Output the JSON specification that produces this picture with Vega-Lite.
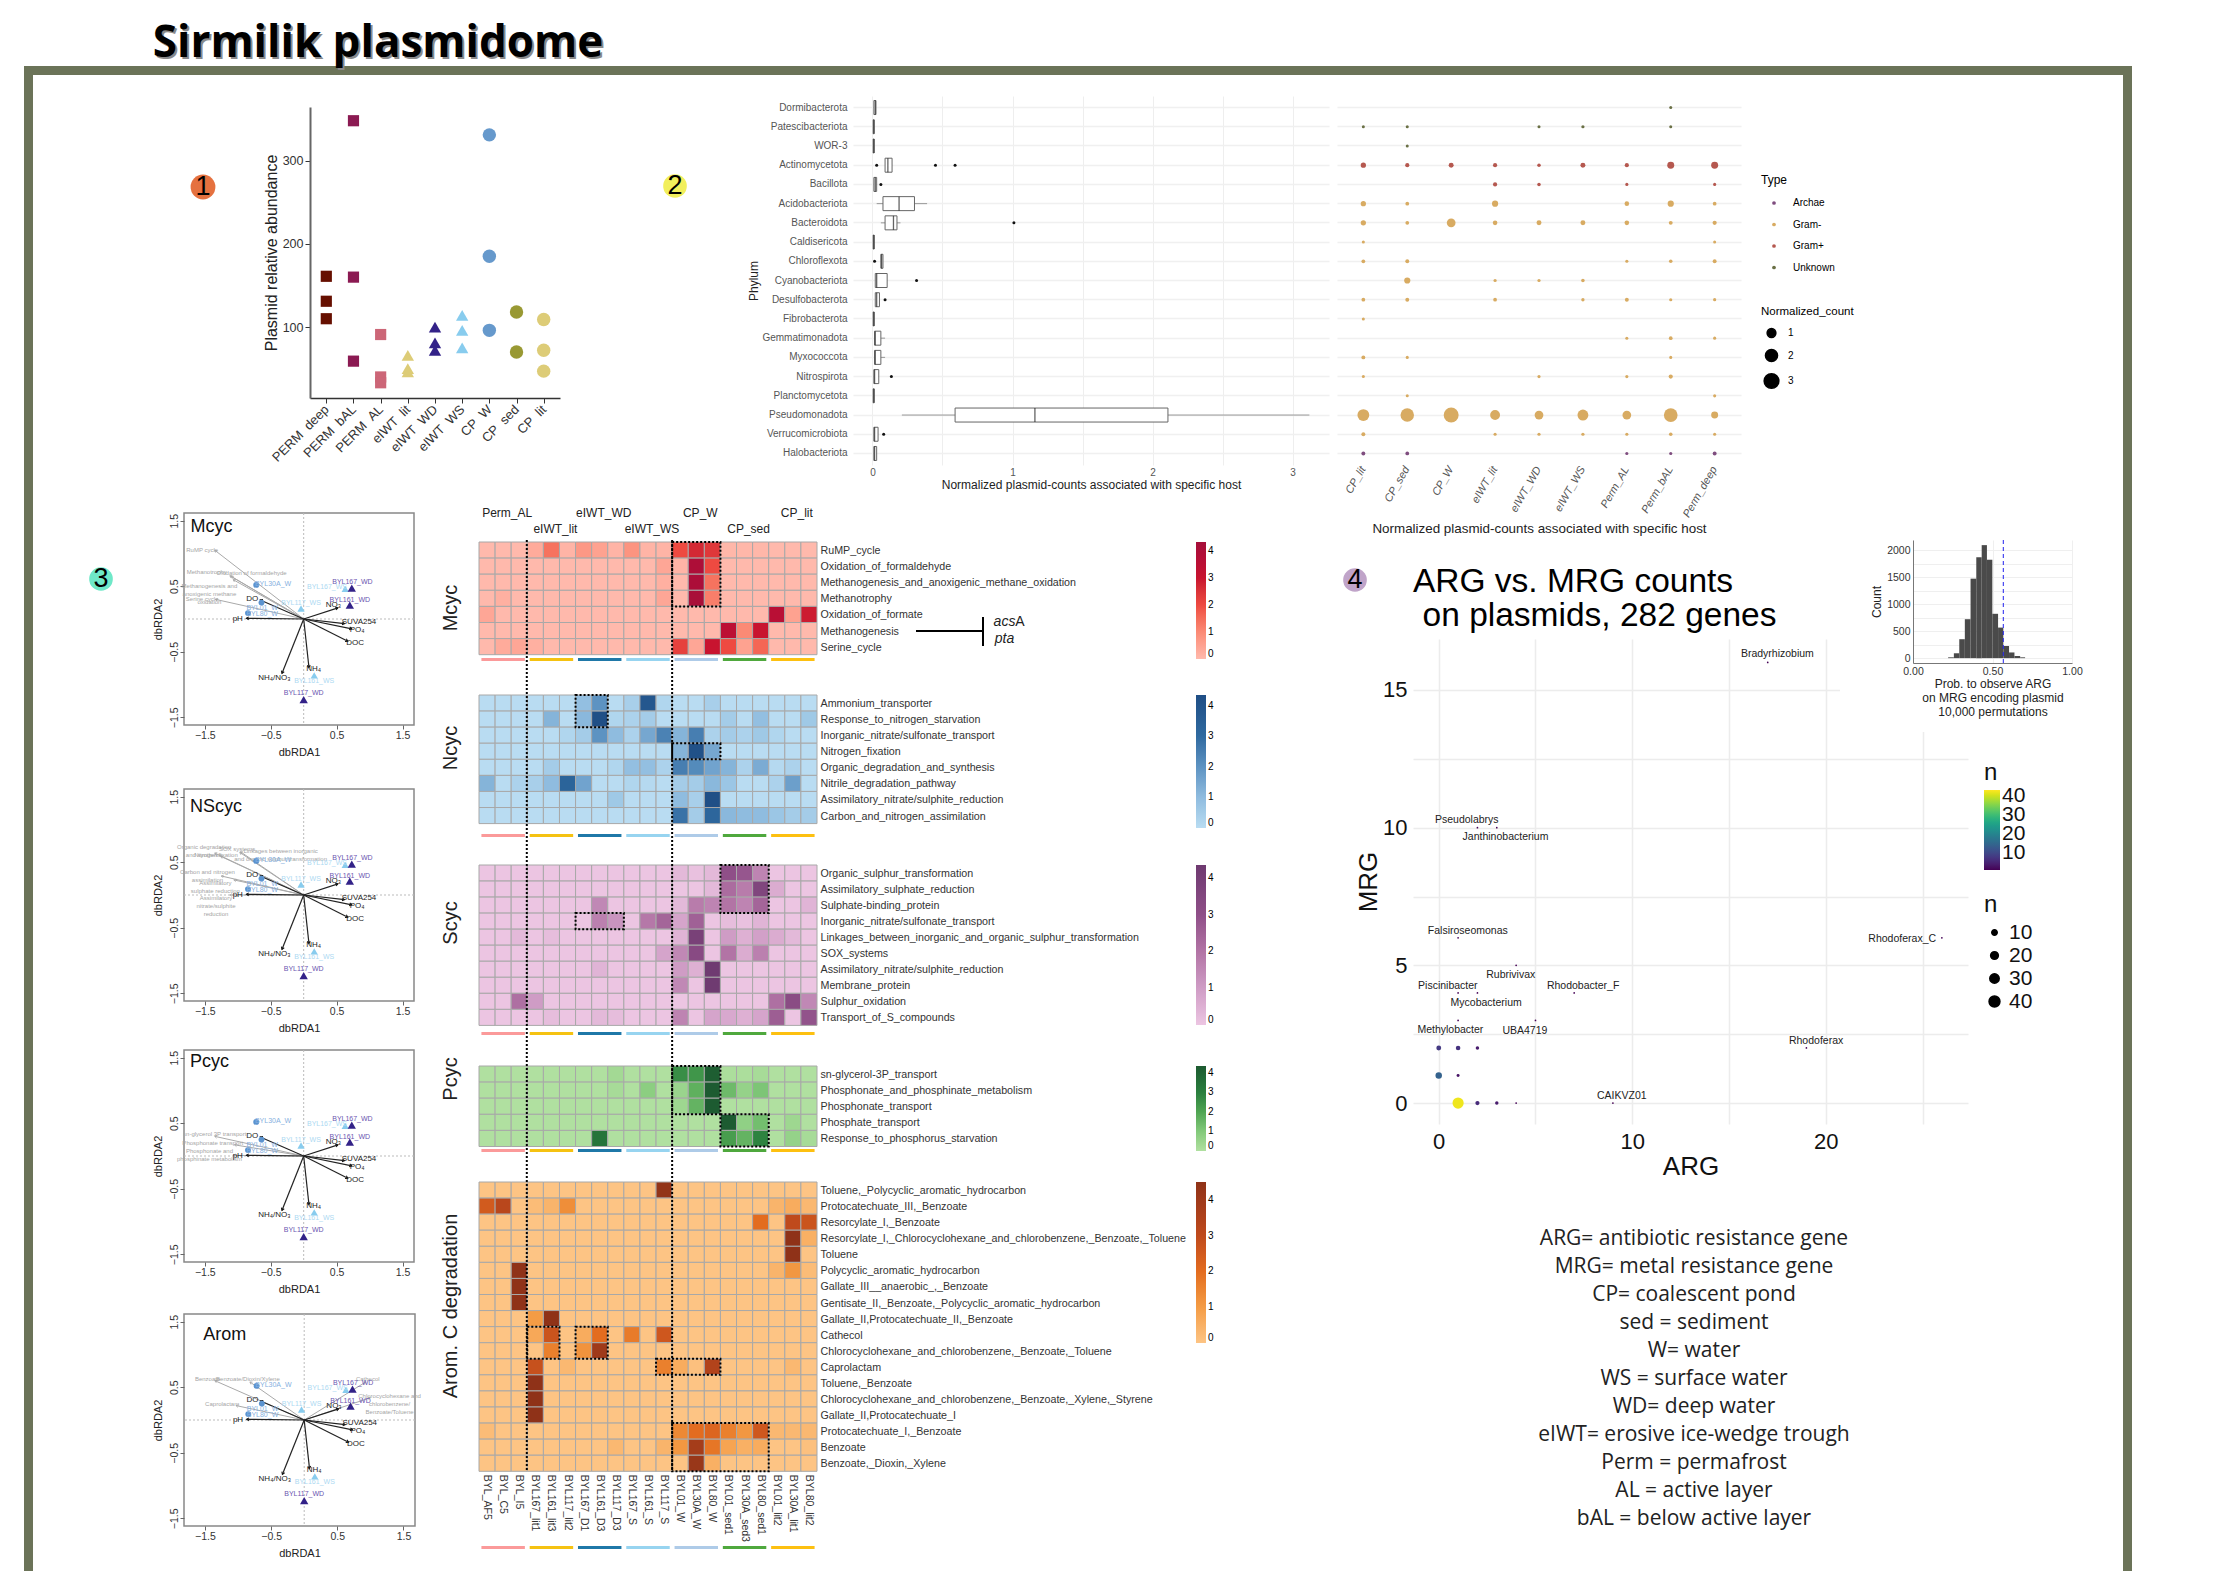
{"$schema":"https://vega.github.io/schema/vega-lite/v6.json","padding":0,"background":"white","bounds":"flush","spacing":0,
"resolve":{"scale":{"color":"independent","size":"independent","shape":"independent","fill":"independent"}},
"config":{"font":"Liberation Sans","view":{"stroke":null},"axis":{"grid":false,"titleFontWeight":"normal","labelOverlap":false,"labelColor":"#333","titleColor":"#222"},"legend":{"titleFontWeight":"normal","labelOverlap":false},"style":{"fl":{"color":"#a9a9a9","stroke":"#a9a9a9","strokeWidth":1},"fh":{"shape":"M-0.5,0.8L0,0L0.5,0.8","filled":false,"color":"#aaa","stroke":"#aaa","strokeWidth":0.8,"size":30,"opacity":1},"ft":{"fontSize":6,"color":"#a5a5a5","fill":"#a5a5a5","lineBreak":"\n"},"el":{"color":"#222","stroke":"#222","strokeWidth":1.2},"eh":{"shape":"M-0.5,0.8L0,0L0.5,0.8","filled":false,"color":"#111","stroke":"#111","strokeWidth":1,"size":36,"opacity":1},"et":{"fontSize":8,"color":"#222","fill":"#222"},"st":{"fontSize":7}}},
"datasets":{
"groups":[{"g":"Perm_AL","tier":"a"},{"g":"eIWT_lit","tier":"b"},{"g":"eIWT_WD","tier":"a"},{"g":"eIWT_WS","tier":"b"},{"g":"CP_W","tier":"a"},{"g":"CP_sed","tier":"b"},{"g":"CP_lit","tier":"a"}],
"sites":[{"name":"BYL30A_W","k":"W","x":-0.72,"y":0.52,"lx":-0.465,"ly":0.54},{"name":"BYL01_W","k":"W","x":-0.64,"y":0.25,"lx":-0.63,"ly":0.17},{"name":"BYL80_W","k":"W","x":-0.845,"y":0.09,"lx":-0.63,"ly":0.07},{"name":"BYL117_WS","k":"WS","x":-0.04,"y":0.16,"lx":-0.04,"ly":0.245},{"name":"BYL167_WS","k":"WS","x":0.63,"y":0.46,"lx":0.354,"ly":0.488},{"name":"BYL167_WD","k":"WD","x":0.73,"y":0.47,"lx":0.74,"ly":0.57},{"name":"BYL161_WD","k":"WD","x":0.7,"y":0.21,"lx":0.7,"ly":0.295},{"name":"BYL161_WS","k":"WS","x":0.16,"y":-0.86,"lx":0.16,"ly":-0.95},{"name":"BYL117_WD","k":"WD","x":0,"y":-1.23,"lx":0,"ly":-1.13}],
"env":[{"t":"NO₃","x":0.52,"y":0.17,"lx":0.45,"ly":0.21},{"t":"SUVA254","x":0.62,"y":-0.07,"lx":0.84,"ly":-0.05},{"t":"PO₄","x":0.73,"y":-0.15,"lx":0.81,"ly":-0.17},{"t":"DOC","x":0.67,"y":-0.34,"lx":0.78,"ly":-0.36},{"t":"NH₄","x":0.08,"y":-0.74,"lx":0.15,"ly":-0.77},{"t":"NH₄/NO₃","x":-0.33,"y":-0.83,"lx":-0.445,"ly":-0.905},{"t":"pH","x":-0.87,"y":0.01,"lx":-1,"ly":0.005},{"t":"DO","x":-0.66,"y":0.29,"lx":-0.78,"ly":0.3}]
},
"vconcat":[
{"vconcat":[{"width":1,"height":66,"data":{"values":[]},"mark":"point","encoding":{}},{"hconcat":[{"width":24,"height":1,"data":{"values":[]},"mark":"point","encoding":{}},{"width":2108,"height":9,"view":{"fill":"#6b7358"},"data":{"values":[]},"mark":"point","encoding":{}}],"spacing":0,"bounds":"flush"}],"spacing":0,"bounds":"flush"},
{"vconcat":[{"width":1,"height":66,"data":{"values":[]},"mark":"point","encoding":{}},{"hconcat":[{"width":24,"height":1,"data":{"values":[]},"mark":"point","encoding":{}},{"width":9,"height":1505,"view":{"fill":"#6b7358"},"data":{"values":[]},"mark":"point","encoding":{}}],"spacing":0,"bounds":"flush"}],"spacing":0,"bounds":"flush"},
{"vconcat":[{"width":1,"height":66,"data":{"values":[]},"mark":"point","encoding":{}},{"hconcat":[{"width":2123,"height":1,"data":{"values":[]},"mark":"point","encoding":{}},{"width":9,"height":1505,"view":{"fill":"#6b7358"},"data":{"values":[]},"mark":"point","encoding":{}}],"spacing":0,"bounds":"flush"}],"spacing":0,"bounds":"flush"},

{"vconcat":[{"width":1,"height":18,"data":{"values":[]},"mark":"point","encoding":{}},{"hconcat":[{"width":154,"height":1,"data":{"values":[]},"mark":"point","encoding":{}},{"width":448,"height":52,"data":{"values":[{}]},"layer":[{"mark":{"type":"text","text":"Sirmilik plasmidome","font":"Open Sans","fontWeight":"bold","fontSize":44,"fill":"#8a8a8a","dx":2,"dy":2},"encoding":{}},{"mark":{"type":"text","text":"Sirmilik plasmidome","font":"Open Sans","fontWeight":"bold","fontSize":44,"fill":"#000"},"encoding":{}}]}],"spacing":0,"bounds":"flush"}],"spacing":0,"bounds":"flush"},

{"vconcat":[{"width":1,"height":173,"data":{"values":[]},"mark":"point","encoding":{}},{"hconcat":[{"width":189,"height":1,"data":{"values":[]},"mark":"point","encoding":{}},{"width":28,"height":28,"data":{"values":[{}]},"layer":[{"mark":{"type":"point","filled":true,"size":615,"fill":"#e5713f","opacity":1},"encoding":{}},{"mark":{"type":"text","text":"1","fontSize":27,"fill":"#000"},"encoding":{}}]}],"spacing":0,"bounds":"flush"}],"spacing":0,"bounds":"flush"},
{"vconcat":[{"width":1,"height":172,"data":{"values":[]},"mark":"point","encoding":{}},{"hconcat":[{"width":661,"height":1,"data":{"values":[]},"mark":"point","encoding":{}},{"width":28,"height":28,"data":{"values":[{}]},"layer":[{"mark":{"type":"point","filled":true,"size":560,"fill":"#f2ef5c","opacity":1},"encoding":{}},{"mark":{"type":"text","text":"2","fontSize":27,"fill":"#000"},"encoding":{}}]}],"spacing":0,"bounds":"flush"}],"spacing":0,"bounds":"flush"},
{"vconcat":[{"width":1,"height":565,"data":{"values":[]},"mark":"point","encoding":{}},{"hconcat":[{"width":87,"height":1,"data":{"values":[]},"mark":"point","encoding":{}},{"width":28,"height":28,"data":{"values":[{}]},"layer":[{"mark":{"type":"point","filled":true,"size":560,"fill":"#6fe8c8","opacity":1},"encoding":{}},{"mark":{"type":"text","text":"3","fontSize":27,"fill":"#000"},"encoding":{}}]}],"spacing":0,"bounds":"flush"}],"spacing":0,"bounds":"flush"},
{"vconcat":[{"width":1,"height":566,"data":{"values":[]},"mark":"point","encoding":{}},{"hconcat":[{"width":1341,"height":1,"data":{"values":[]},"mark":"point","encoding":{}},{"width":28,"height":28,"data":{"values":[{}]},"layer":[{"mark":{"type":"point","filled":true,"size":560,"fill":"#c0a4c9","opacity":1},"encoding":{}},{"mark":{"type":"text","text":"4","fontSize":27,"fill":"#000"},"encoding":{}}]}],"spacing":0,"bounds":"flush"}],"spacing":0,"bounds":"flush"},

{"vconcat":[{"width":1,"height":107,"data":{"values":[]},"mark":"point","encoding":{}},{"hconcat":[{"width":310,"height":1,"data":{"values":[]},"mark":"point","encoding":{}},
{"width":250,"height":291,"data":{"values":[
{"g":"PERM  deep","s":"square","v":161},{"g":"PERM  deep","s":"square","v":131},{"g":"PERM  deep","s":"square","v":110},
{"g":"PERM  bAL","s":"square","v":348},{"g":"PERM  bAL","s":"square","v":160},{"g":"PERM  bAL","s":"square","v":59},
{"g":"PERM  AL","s":"square","v":91},{"g":"PERM  AL","s":"square","v":40},{"g":"PERM  AL","s":"square","v":33},
{"g":"eIWT  lit","s":"triangle-up","v":66},{"g":"eIWT  lit","s":"triangle-up","v":50},{"g":"eIWT  lit","s":"triangle-up","v":46},
{"g":"eIWT  WD","s":"triangle-up","v":100},{"g":"eIWT  WD","s":"triangle-up","v":81},{"g":"eIWT  WD","s":"triangle-up","v":72},
{"g":"eIWT  WS","s":"triangle-up","v":114},{"g":"eIWT  WS","s":"triangle-up","v":96},{"g":"eIWT  WS","s":"triangle-up","v":75},
{"g":"CP  W","s":"circle","v":331},{"g":"CP  W","s":"circle","v":185},{"g":"CP  W","s":"circle","v":96},
{"g":"CP  sed","s":"circle","v":118},{"g":"CP  sed","s":"circle","v":70},
{"g":"CP  lit","s":"circle","v":109},{"g":"CP  lit","s":"circle","v":72},{"g":"CP  lit","s":"circle","v":47}]},
"mark":{"type":"point","filled":true,"opacity":1},
"encoding":{"x":{"field":"g","type":"nominal","sort":null,"title":null,"scale":{"type":"point","padding":0.6},"axis":{"labelAngle":-45,"labelAlign":"right","labelBaseline":"middle","labelFontSize":13,"labelExpr":"replace(datum.label,'  ','\u00a0\u00a0')","domainColor":"#333","domainWidth":1.5,"tickColor":"#333","labelPadding":4}},
"y":{"field":"v","type":"quantitative","title":"Plasmid relative abundance","scale":{"domain":[14.7,364.5],"nice":false},"axis":{"values":[100,200,300],"labelFontSize":12.5,"titleFontSize":16,"titlePadding":3,"domainColor":"#666","domainWidth":2,"tickColor":"#333"}},
"shape":{"field":"s","type":"nominal","legend":null,"scale":{"domain":["square","triangle-up","circle"],"range":["square","triangle-up","circle"]}},
"size":{"field":"s","type":"ordinal","legend":null,"scale":{"domain":["square","triangle-up","circle"],"range":[125,180,105]}},
"color":{"field":"g","type":"nominal","legend":null,"sort":null,"scale":{"domain":["PERM  deep","PERM  bAL","PERM  AL","eIWT  lit","eIWT  WD","eIWT  WS","CP  W","CP  sed","CP  lit"],"range":["#660f00","#8b1a52","#cc6677","#ddcc77","#332288","#88ccee","#6699cc","#999933","#ddcc77"]}}}}
],"spacing":0,"bounds":"flush"}],"spacing":0,"bounds":"flush"},

{"vconcat":[{"width":1,"height":96,"data":{"values":[]},"mark":"point","encoding":{}},{"hconcat":[{"width":853,"height":1,"data":{"values":[]},"mark":"point","encoding":{}},
{"width":476,"height":369,"encoding":{"y":{"field":"p","type":"nominal","title":"Phylum","scale":{"type":"band","paddingInner":0,"paddingOuter":0.1,"domain":["Dormibacterota","Patescibacteriota","WOR-3","Actinomycetota","Bacillota","Acidobacteriota","Bacteroidota","Caldisericota","Chloroflexota","Cyanobacteriota","Desulfobacterota","Fibrobacterota","Gemmatimonadota","Myxococcota","Nitrospirota","Planctomycetota","Pseudomonadota","Verrucomicrobiota","Halobacteriota"]},"axis":{"grid":true,"gridColor":"#f0f0f0","gridWidth":1.5,"ticks":false,"domain":false,"labelFontSize":10,"labelColor":"#555","labelPadding":6,"titleFontSize":12,"titlePadding":1}}},
"layer":[
{"data":{"values":[{"p":"Dormibacterota","lo":0.01,"q1":0.01,"m":0.02,"q3":0.025,"hi":0.025},{"p":"Patescibacteriota","lo":0.005,"q1":0.005,"m":0.01,"q3":0.012,"hi":0.012},{"p":"WOR-3","lo":0.005,"q1":0.005,"m":0.01,"q3":0.012,"hi":0.012},{"p":"Actinomycetota","lo":0.09,"q1":0.09,"m":0.11,"q3":0.14,"hi":0.14},{"p":"Bacillota","lo":0.01,"q1":0.01,"m":0.02,"q3":0.03,"hi":0.03},{"p":"Acidobacteriota","lo":0.03,"q1":0.075,"m":0.19,"q3":0.3,"hi":0.39},{"p":"Bacteroidota","lo":0.06,"q1":0.09,"m":0.15,"q3":0.175,"hi":0.2},{"p":"Caldisericota","lo":0.005,"q1":0.005,"m":0.01,"q3":0.012,"hi":0.012},{"p":"Chloroflexota","lo":0.06,"q1":0.06,"m":0.065,"q3":0.075,"hi":0.075},{"p":"Cyanobacteriota","lo":0.02,"q1":0.02,"m":0.03,"q3":0.105,"hi":0.105},{"p":"Desulfobacterota","lo":0.02,"q1":0.02,"m":0.03,"q3":0.05,"hi":0.05},{"p":"Fibrobacterota","lo":0.005,"q1":0.005,"m":0.01,"q3":0.012,"hi":0.012},{"p":"Gemmatimonadota","lo":0.015,"q1":0.015,"m":0.02,"q3":0.06,"hi":0.09},{"p":"Myxococcota","lo":0.015,"q1":0.015,"m":0.02,"q3":0.06,"hi":0.09},{"p":"Nitrospirota","lo":0.01,"q1":0.01,"m":0.015,"q3":0.045,"hi":0.045},{"p":"Planctomycetota","lo":0.005,"q1":0.005,"m":0.01,"q3":0.012,"hi":0.012},{"p":"Pseudomonadota","lo":0.21,"q1":0.59,"m":1.16,"q3":2.11,"hi":3.12},{"p":"Verrucomicrobiota","lo":0.01,"q1":0.01,"m":0.015,"q3":0.04,"hi":0.04},{"p":"Halobacteriota","lo":0.01,"q1":0.01,"m":0.015,"q3":0.03,"hi":0.03}]},
"layer":[
{"mark":{"type":"rule","stroke":"#999","strokeWidth":1},"encoding":{"x":{"field":"lo","type":"quantitative","title":"Normalized plasmid-counts associated with specific host","scale":{"domain":[-0.139,3.26],"nice":false},"axis":{"values":[0,0.5,1,1.5,2,2.5,3],"labelExpr":"datum.value%1==0?format(datum.value,'d'):''","labelOverlap":false,"grid":true,"gridColor":"#eeeeee","ticks":false,"domain":false,"labelFontSize":10,"labelColor":"#555","titleFontSize":12,"titlePadding":2}},"x2":{"field":"hi"}}},
{"mark":{"type":"bar","size":14,"fill":"white","stroke":"#666","strokeWidth":1},"encoding":{"x":{"field":"q1","type":"quantitative"},"x2":{"field":"q3"}}},
{"mark":{"type":"tick","color":"#222","thickness":1.3,"size":14,"orient":"vertical"},"encoding":{"x":{"field":"m","type":"quantitative"}}}]},
{"data":{"values":[{"p":"Actinomycetota","o":0.03},{"p":"Actinomycetota","o":0.45},{"p":"Actinomycetota","o":0.59},{"p":"Bacillota","o":0.06},{"p":"Bacteroidota","o":1.01},{"p":"Chloroflexota","o":0.015},{"p":"Cyanobacteriota","o":0.315},{"p":"Desulfobacterota","o":0.09},{"p":"Nitrospirota","o":0.135},{"p":"Verrucomicrobiota","o":0.08}]},"mark":{"type":"circle","color":"#111","size":9,"opacity":1},"encoding":{"x":{"field":"o","type":"quantitative"}}}
]}
],"spacing":0,"bounds":"flush"}],"spacing":0,"bounds":"flush"},

{"vconcat":[{"width":1,"height":96,"data":{"values":[]},"mark":"point","encoding":{}},{"hconcat":[{"width":1337,"height":1,"data":{"values":[]},"mark":"point","encoding":{}},
{"width":404,"height":369,"data":{"values":[
{"p":"Dormibacterota","s":"Perm_bAL","v":0.03,"t":"Unknown"},
{"p":"Patescibacteriota","s":"CP_lit","v":0.03,"t":"Unknown"},{"p":"Patescibacteriota","s":"CP_sed","v":0.03,"t":"Unknown"},{"p":"Patescibacteriota","s":"eIWT_WD","v":0.03,"t":"Unknown"},{"p":"Patescibacteriota","s":"eIWT_WS","v":0.05,"t":"Unknown"},{"p":"Patescibacteriota","s":"Perm_bAL","v":0.03,"t":"Unknown"},
{"p":"WOR-3","s":"CP_sed","v":0.03,"t":"Unknown"},
{"p":"Actinomycetota","s":"CP_lit","v":0.3,"t":"Gram+"},{"p":"Actinomycetota","s":"CP_sed","v":0.15,"t":"Gram+"},{"p":"Actinomycetota","s":"CP_W","v":0.25,"t":"Gram+"},{"p":"Actinomycetota","s":"eIWT_lit","v":0.15,"t":"Gram+"},{"p":"Actinomycetota","s":"eIWT_WD","v":0.08,"t":"Gram+"},{"p":"Actinomycetota","s":"eIWT_WS","v":0.25,"t":"Gram+"},{"p":"Actinomycetota","s":"Perm_AL","v":0.15,"t":"Gram+"},{"p":"Actinomycetota","s":"Perm_bAL","v":0.6,"t":"Gram+"},{"p":"Actinomycetota","s":"Perm_deep","v":0.6,"t":"Gram+"},
{"p":"Bacillota","s":"eIWT_lit","v":0.15,"t":"Gram+"},{"p":"Bacillota","s":"eIWT_WD","v":0.08,"t":"Gram+"},{"p":"Bacillota","s":"Perm_AL","v":0.04,"t":"Gram+"},{"p":"Bacillota","s":"Perm_deep","v":0.04,"t":"Gram+"},
{"p":"Acidobacteriota","s":"CP_lit","v":0.3,"t":"Gram-"},{"p":"Acidobacteriota","s":"CP_sed","v":0.1,"t":"Gram-"},{"p":"Acidobacteriota","s":"eIWT_lit","v":0.45,"t":"Gram-"},{"p":"Acidobacteriota","s":"Perm_AL","v":0.2,"t":"Gram-"},{"p":"Acidobacteriota","s":"Perm_bAL","v":0.45,"t":"Gram-"},{"p":"Acidobacteriota","s":"Perm_deep","v":0.1,"t":"Gram-"},
{"p":"Bacteroidota","s":"CP_lit","v":0.3,"t":"Gram-"},{"p":"Bacteroidota","s":"CP_sed","v":0.1,"t":"Gram-"},{"p":"Bacteroidota","s":"CP_W","v":1,"t":"Gram-"},{"p":"Bacteroidota","s":"eIWT_lit","v":0.2,"t":"Gram-"},{"p":"Bacteroidota","s":"eIWT_WD","v":0.25,"t":"Gram-"},{"p":"Bacteroidota","s":"eIWT_WS","v":0.25,"t":"Gram-"},{"p":"Bacteroidota","s":"Perm_AL","v":0.2,"t":"Gram-"},{"p":"Bacteroidota","s":"Perm_bAL","v":0.12,"t":"Gram-"},{"p":"Bacteroidota","s":"Perm_deep","v":0.15,"t":"Gram-"},
{"p":"Caldisericota","s":"CP_lit","v":0.03,"t":"Gram-"},{"p":"Caldisericota","s":"Perm_deep","v":0.03,"t":"Gram-"},
{"p":"Chloroflexota","s":"CP_lit","v":0.1,"t":"Gram-"},{"p":"Chloroflexota","s":"CP_sed","v":0.12,"t":"Gram-"},{"p":"Chloroflexota","s":"Perm_AL","v":0.04,"t":"Gram-"},{"p":"Chloroflexota","s":"Perm_bAL","v":0.08,"t":"Gram-"},{"p":"Chloroflexota","s":"Perm_deep","v":0.12,"t":"Gram-"},
{"p":"Cyanobacteriota","s":"CP_sed","v":0.45,"t":"Gram-"},{"p":"Cyanobacteriota","s":"eIWT_lit","v":0.05,"t":"Gram-"},{"p":"Cyanobacteriota","s":"eIWT_WD","v":0.05,"t":"Gram-"},{"p":"Cyanobacteriota","s":"eIWT_WS","v":0.08,"t":"Gram-"},
{"p":"Desulfobacterota","s":"CP_lit","v":0.1,"t":"Gram-"},{"p":"Desulfobacterota","s":"CP_sed","v":0.12,"t":"Gram-"},{"p":"Desulfobacterota","s":"eIWT_lit","v":0.1,"t":"Gram-"},{"p":"Desulfobacterota","s":"eIWT_WS","v":0.06,"t":"Gram-"},{"p":"Desulfobacterota","s":"Perm_AL","v":0.12,"t":"Gram-"},{"p":"Desulfobacterota","s":"Perm_bAL","v":0.04,"t":"Gram-"},{"p":"Desulfobacterota","s":"Perm_deep","v":0.05,"t":"Gram-"},
{"p":"Fibrobacterota","s":"CP_lit","v":0.03,"t":"Gram-"},
{"p":"Gemmatimonadota","s":"Perm_AL","v":0.03,"t":"Gram-"},{"p":"Gemmatimonadota","s":"Perm_bAL","v":0.1,"t":"Gram-"},{"p":"Gemmatimonadota","s":"Perm_deep","v":0.04,"t":"Gram-"},
{"p":"Myxococcota","s":"CP_lit","v":0.12,"t":"Gram-"},{"p":"Myxococcota","s":"CP_sed","v":0.03,"t":"Gram-"},{"p":"Myxococcota","s":"Perm_bAL","v":0.03,"t":"Gram-"},
{"p":"Nitrospirota","s":"CP_lit","v":0.03,"t":"Gram-"},{"p":"Nitrospirota","s":"eIWT_WD","v":0.04,"t":"Gram-"},{"p":"Nitrospirota","s":"Perm_AL","v":0.04,"t":"Gram-"},{"p":"Nitrospirota","s":"Perm_bAL","v":0.15,"t":"Gram-"},
{"p":"Planctomycetota","s":"CP_sed","v":0.03,"t":"Gram-"},{"p":"Planctomycetota","s":"Perm_deep","v":0.04,"t":"Gram-"},
{"p":"Pseudomonadota","s":"CP_lit","v":1.9,"t":"Gram-"},{"p":"Pseudomonadota","s":"CP_sed","v":2.5,"t":"Gram-"},{"p":"Pseudomonadota","s":"CP_W","v":3.1,"t":"Gram-"},{"p":"Pseudomonadota","s":"eIWT_lit","v":1.3,"t":"Gram-"},{"p":"Pseudomonadota","s":"eIWT_WD","v":1,"t":"Gram-"},{"p":"Pseudomonadota","s":"eIWT_WS","v":1.6,"t":"Gram-"},{"p":"Pseudomonadota","s":"Perm_AL","v":1,"t":"Gram-"},{"p":"Pseudomonadota","s":"Perm_bAL","v":2.6,"t":"Gram-"},{"p":"Pseudomonadota","s":"Perm_deep","v":0.6,"t":"Gram-"},
{"p":"Verrucomicrobiota","s":"CP_lit","v":0.12,"t":"Gram-"},{"p":"Verrucomicrobiota","s":"eIWT_lit","v":0.04,"t":"Gram-"},{"p":"Verrucomicrobiota","s":"eIWT_WD","v":0.05,"t":"Gram-"},{"p":"Verrucomicrobiota","s":"eIWT_WS","v":0.05,"t":"Gram-"},{"p":"Verrucomicrobiota","s":"Perm_AL","v":0.04,"t":"Gram-"},{"p":"Verrucomicrobiota","s":"Perm_bAL","v":0.08,"t":"Gram-"},{"p":"Verrucomicrobiota","s":"Perm_deep","v":0.04,"t":"Gram-"},
{"p":"Halobacteriota","s":"CP_lit","v":0.12,"t":"Archae"},{"p":"Halobacteriota","s":"CP_sed","v":0.1,"t":"Archae"},{"p":"Halobacteriota","s":"Perm_AL","v":0.04,"t":"Archae"},{"p":"Halobacteriota","s":"Perm_bAL","v":0.04,"t":"Archae"},{"p":"Halobacteriota","s":"Perm_deep","v":0.12,"t":"Archae"}]},
"mark":{"type":"circle","opacity":1},
"encoding":{
"x":{"field":"s","type":"nominal","title":"Normalized plasmid-counts associated with specific host","scale":{"type":"band","paddingInner":0,"paddingOuter":0.1,"domain":["CP_lit","CP_sed","CP_W","eIWT_lit","eIWT_WD","eIWT_WS","Perm_AL","Perm_bAL","Perm_deep"]},"axis":{"labelAngle":-60,"labelAlign":"right","labelBaseline":"middle","labelFontStyle":"italic","labelFontSize":11,"ticks":false,"domain":false,"labelColor":"#555","titleFontSize":13.4,"titlePadding":3}},
"y":{"field":"p","type":"nominal","title":null,"scale":{"type":"band","paddingInner":0,"paddingOuter":0.1,"domain":["Dormibacterota","Patescibacteriota","WOR-3","Actinomycetota","Bacillota","Acidobacteriota","Bacteroidota","Caldisericota","Chloroflexota","Cyanobacteriota","Desulfobacterota","Fibrobacterota","Gemmatimonadota","Myxococcota","Nitrospirota","Planctomycetota","Pseudomonadota","Verrucomicrobiota","Halobacteriota"]},"axis":{"labels":false,"ticks":false,"domain":false,"grid":true,"gridColor":"#f0f0f0","gridWidth":1.5}},
"color":{"field":"t","type":"nominal","scale":{"domain":["Archae","Gram-","Gram+","Unknown"],"range":["#7f4d7f","#d8ab62","#b5584f","#6a7045"]},"legend":{"title":"Type","orient":"none","legendX":1761,"legendY":175,"titleFontSize":12,"titlePadding":11,"labelFontSize":10,"symbolSize":14,"symbolOffset":8,"labelOffset":14,"rowPadding":11.5,"symbolType":"circle"}},
"size":{"field":"v","type":"quantitative","scale":{"domain":[0,3.2],"range":[7,230]},"legend":{"title":"Normalized_count","orient":"none","legendX":1761,"legendY":306,"values":[1,2,3],"format":"d","titleFontSize":11.5,"titlePadding":10,"labelFontSize":10,"rowPadding":5,"labelOffset":8,"symbolOffset":2,"symbolFillColor":"#000","symbolStrokeColor":"#000"}}}}
],"spacing":0,"bounds":"flush"}],"spacing":0,"bounds":"flush"},

{"vconcat":[{"width":1,"height":505,"data":{"values":[]},"mark":"point","encoding":{}},{"hconcat":[{"width":478.7,"height":1,"data":{"values":[]},"mark":"point","encoding":{}},
{"width":338,"height":32,"data":{"name":"groups"},"mark":{"type":"text","fontSize":12,"dx":4,"fill":"#222"},"encoding":{"text":{"field":"g"},"x":{"field":"g","type":"nominal","sort":null,"axis":null},"y":{"field":"tier","type":"nominal","axis":null,"scale":{"domain":["a","b"]}}}}
],"spacing":0,"bounds":"flush"}],"spacing":0,"bounds":"flush"},

{"vconcat":[{"width":1,"height":542,"data":{"values":[]},"mark":"point","encoding":{}},{"hconcat":[{"width":478.7,"height":1,"data":{"values":[]},"mark":"point","encoding":{}},
{"width":338,"height":112.7,"layer":[{"data":{"values":[
{"p":"RuMP_cycle","v":[0,0,0,0.3,1.4,0.1,0.7,0.5,0.1,0.8,0.1,0.1,2,2.7,2.4,0.05,0.05,0.05,0,0,0]},
{"p":"Oxidation_of_formaldehyde","v":[0,0,0,0,0,0,0,0,0,0,0,0.4,0.1,4,2,0,0,0,0,0,0]},
{"p":"Methanogenesis_and_anoxigenic_methane_oxidation","v":[0,0,0,0,0,0,0,0,0,0,0,0.2,0,4.1,1.4,0,0,0,0,0,0]},
{"p":"Methanotrophy","v":[0,0.2,0,0,0,0,0,0,0,0,0,0.4,0,4.2,1.2,0,0,0,0,0,0]},
{"p":"Oxidation_of_formate","v":[0.4,0,0,0,0,0,0,0,0,0,0,0,0,0,0,0,0,0,3.6,0.5,2.9]},
{"p":"Methanogenesis","v":[0,0,0,0,0,0,0,0,0,0,0,0,0,0,0,3.5,1,3,0,0,0]},
{"p":"Serine_cycle","v":[0,0.3,0.4,0.2,0,0,0,0,0,0,0,0,2.2,0.4,3,2,0.5,1.6,0,0,0]}]},
"transform":[{"flatten":["v"]},{"window":[{"op":"row_number","as":"i"}],"groupby":["p"]}],
"mark":{"type":"rect","stroke":"#a8a8a8","strokeWidth":1},
"encoding":{"x":{"field":"i","type":"ordinal","axis":null,"scale":{"type":"band","padding":0}},"y":{"field":"p","type":"nominal","sort":null,"title":null,"scale":{"type":"band","padding":0},"axis":{"orient":"right","ticks":false,"domain":false,"labelFontSize":10.7,"labelLimit":500,"labelPadding":3,"labelOffset":1,"labelColor":"#333"}},
"color":{"field":"v","type":"quantitative","title":null,"scale":{"domain":[0,1,2,3,4.35],"range":["#ffb9ac","#fb8a75","#ee4a41","#c8142f","#a50f3a"]},"legend":{"orient":"none","legendX":717,"legendY":0,"values":[0,1,2,3,4],"gradientLength":117,"gradientThickness":10,"labelFontSize":10}}}},
{"data":{"values":[{"a":12,"b":15,"c":0,"d":4}]},"mark":{"type":"rect","fill":"transparent","stroke":"#000","strokeWidth":2,"strokeDash":[2,2]},"encoding":{"x":{"field":"a","type":"quantitative","axis":null,"scale":{"domain":[0,21],"nice":false}},"x2":{"field":"b"},"y":{"field":"c","type":"quantitative","axis":null,"scale":{"domain":[7,0],"nice":false}},"y2":{"field":"d"}}}],"resolve":{"scale":{"x":"independent","y":"independent","color":"independent"}}}
],"spacing":0,"bounds":"flush"}],"spacing":0,"bounds":"flush"},

{"vconcat":[{"width":1,"height":695,"data":{"values":[]},"mark":"point","encoding":{}},{"hconcat":[{"width":478.7,"height":1,"data":{"values":[]},"mark":"point","encoding":{}},
{"width":338,"height":128.6,"layer":[{"data":{"values":[
{"p":"Ammonium_transporter","v":[0,0,0,0,0,0,0.9,2,0,0.4,3.9,0.2,0,0,0.4,0,0,0,0,0,0]},
{"p":"Response_to_nitrogen_starvation","v":[0,0,0,0,1.2,0,1.1,4.3,0.2,0.3,0.5,0,0,0,0,0.5,0,0.9,0,0,0.6]},
{"p":"Inorganic_nitrate/sulfonate_transport","v":[0,0,0,0,0,0.2,0.5,2,1,0.3,1.5,2.4,1.2,2.5,0.3,0.5,0.3,0.6,0.2,0,0]},
{"p":"Nitrogen_fixation","v":[0,0,0,0,0,0,0,0,0,0,0,0,1.2,4.2,1.5,0,0,0,0,0,0]},
{"p":"Organic_degradation_and_synthesis","v":[0,0,0,0,0.5,0,0,0,0.2,0.9,0.9,0.3,2.5,2.2,1.6,1.2,0.3,1.4,0.1,0.3,0]},
{"p":"Nitrile_degradation_pathway","v":[1.2,0,0.3,0.4,1,3.3,1.6,0,0,0.2,0.1,0,0.5,0.5,1.1,0.7,0,0,0.3,1.7,0]},
{"p":"Assimilatory_nitrate/sulphite_reduction","v":[0,0,0,0,0,0,0,0,0.6,0,0,0,1,0.4,4.3,0,0,0,0,0,0]},
{"p":"Carbon_and_nitrogen_assimilation","v":[0,0,0,0,0,0,0,0,0,0,0,0,2.8,0.5,3.2,1.1,1,1,0.7,0.5,0.5]}]},
"transform":[{"flatten":["v"]},{"window":[{"op":"row_number","as":"i"}],"groupby":["p"]}],
"mark":{"type":"rect","stroke":"#a8a8a8","strokeWidth":1},
"encoding":{"x":{"field":"i","type":"ordinal","axis":null,"scale":{"type":"band","padding":0}},"y":{"field":"p","type":"nominal","sort":null,"title":null,"scale":{"type":"band","padding":0},"axis":{"orient":"right","ticks":false,"domain":false,"labelFontSize":10.7,"labelLimit":500,"labelPadding":3,"labelOffset":1,"labelColor":"#333"}},
"color":{"field":"v","type":"quantitative","title":null,"scale":{"domain":[0,1,2,3,4.35],"range":["#b9dcf2","#8fbcdf","#5d93c2","#2f6aa0","#1f4e85"]},"legend":{"orient":"none","legendX":717,"legendY":0,"values":[0,1,2,3,4],"gradientLength":133,"gradientThickness":10,"labelFontSize":10}}}},
{"data":{"values":[{"a":6,"b":8,"c":0,"d":2},{"a":12,"b":15,"c":3,"d":4}]},"mark":{"type":"rect","fill":"transparent","stroke":"#000","strokeWidth":2,"strokeDash":[2,2]},"encoding":{"x":{"field":"a","type":"quantitative","axis":null,"scale":{"domain":[0,21],"nice":false}},"x2":{"field":"b"},"y":{"field":"c","type":"quantitative","axis":null,"scale":{"domain":[8,0],"nice":false}},"y2":{"field":"d"}}}],"resolve":{"scale":{"x":"independent","y":"independent","color":"independent"}}}
],"spacing":0,"bounds":"flush"}],"spacing":0,"bounds":"flush"},

{"vconcat":[{"width":1,"height":865,"data":{"values":[]},"mark":"point","encoding":{}},{"hconcat":[{"width":478.7,"height":1,"data":{"values":[]},"mark":"point","encoding":{}},
{"width":338,"height":160.4,"layer":[{"data":{"values":[
{"p":"Organic_sulphur_transformation","v":[0,0,0,0,0,0,0,0,0,0,0,0,0.3,0.1,0.3,3,2.8,1.6,0,0,0]},
{"p":"Assimilatory_sulphate_reduction","v":[0,0,0,0,0,0,0,0,0,0,0,0,0,0,0.3,2.2,1.8,3.6,0.6,0,0]},
{"p":"Sulphate-binding_protein","v":[0,0,0,0,0,0,0,1.5,0,0,0,0,0.3,1.8,1.6,2,1.6,2.4,0,0,0.4]},
{"p":"Inorganic_nitrate/sulfonate_transport","v":[0,0,0,0,0,0,0,1.7,1.2,0,1.9,2.4,0.8,2.5,0,0.2,0.1,0.4,0,0,0]},
{"p":"Linkages_between_inorganic_and_organic_sulphur_transformation","v":[0,0,0.3,0,0.2,0,0,0,0,0,0,0,0.4,3.9,0,1,0.5,0.9,0.6,0.3,0]},
{"p":"SOX_systems","v":[0,0,0,0,0,0,0,0,0,0,0,0.8,1.5,3.3,0,2,0.6,1.7,0,0,0]},
{"p":"Assimilatory_nitrate/sulphite_reduction","v":[0,0,0,0,0,0,0,0.4,0,0,0,0,1,0.5,4.3,0,0,0,0,0,0]},
{"p":"Membrane_protein","v":[0,0,0,0,0,0,0,0,0,0,0,0,1.5,0,4.3,0,0,0,0,0,0]},
{"p":"Sulphur_oxidation","v":[0,0,2.1,1,0,0,0,0,0,0,0,0,0,0,0,0,0,0,2.1,3.2,1.5]},
{"p":"Transport_of_S_compounds","v":[0,0,0,0,0.2,0,0,0.3,0.2,0,0,0,1.6,0,0.8,0.7,0.5,0.8,2.6,0,2.9]}]},
"transform":[{"flatten":["v"]},{"window":[{"op":"row_number","as":"i"}],"groupby":["p"]}],
"mark":{"type":"rect","stroke":"#a8a8a8","strokeWidth":1},
"encoding":{"x":{"field":"i","type":"ordinal","axis":null,"scale":{"type":"band","padding":0}},"y":{"field":"p","type":"nominal","sort":null,"title":null,"scale":{"type":"band","padding":0},"axis":{"orient":"right","ticks":false,"domain":false,"labelFontSize":10.7,"labelLimit":500,"labelPadding":3,"labelOffset":1,"labelColor":"#333"}},
"color":{"field":"v","type":"quantitative","title":null,"scale":{"domain":[0,1,2,3,4.35],"range":["#ecc5e2","#cf9cc5","#b274a5","#8f4f88","#6e3a70"]},"legend":{"orient":"none","legendX":717,"legendY":0,"values":[0,1,2,3,4],"gradientLength":160,"gradientThickness":10,"labelFontSize":10}}}},
{"data":{"values":[{"a":15,"b":18,"c":0,"d":3},{"a":6,"b":9,"c":3,"d":4}]},"mark":{"type":"rect","fill":"transparent","stroke":"#000","strokeWidth":2,"strokeDash":[2,2]},"encoding":{"x":{"field":"a","type":"quantitative","axis":null,"scale":{"domain":[0,21],"nice":false}},"x2":{"field":"b"},"y":{"field":"c","type":"quantitative","axis":null,"scale":{"domain":[10,0],"nice":false}},"y2":{"field":"d"}}}],"resolve":{"scale":{"x":"independent","y":"independent","color":"independent"}}}
],"spacing":0,"bounds":"flush"}],"spacing":0,"bounds":"flush"},

{"vconcat":[{"width":1,"height":1066,"data":{"values":[]},"mark":"point","encoding":{}},{"hconcat":[{"width":478.7,"height":1,"data":{"values":[]},"mark":"point","encoding":{}},
{"width":338,"height":80.5,"layer":[{"data":{"values":[
{"p":"sn-glycerol-3P_transport","v":[0,0,0,0,0,0,0,0,0.3,0,0,0,2.6,2.4,4.2,0.1,0.1,0.2,0,0,0]},
{"p":"Phosphonate_and_phosphinate_metabolism","v":[0,0,0,0,0,0,0,0,0.2,0,0.8,0,0.5,1.7,4.3,1.4,0.6,1.1,0,0,0]},
{"p":"Phosphonate_transport","v":[0,0,0,0,0,0,0,0,0,0,0,0,0.4,1.6,4.3,0,0,0,0,0,0]},
{"p":"Phosphate_transport","v":[0,0,0,0,0,0,0,0,0,0,0,0,0,0,0,4.3,0.7,1.3,0,0.4,0]},
{"p":"Response_to_phosphorus_starvation","v":[0,0,0,0,0,0,0,3.4,0,0,0,0,0,0,0,2.2,1.6,2.9,0,0.6,0.2]}]},
"transform":[{"flatten":["v"]},{"window":[{"op":"row_number","as":"i"}],"groupby":["p"]}],
"mark":{"type":"rect","stroke":"#a8a8a8","strokeWidth":1},
"encoding":{"x":{"field":"i","type":"ordinal","axis":null,"scale":{"type":"band","padding":0}},"y":{"field":"p","type":"nominal","sort":null,"title":null,"scale":{"type":"band","padding":0},"axis":{"orient":"right","ticks":false,"domain":false,"labelFontSize":10.7,"labelLimit":500,"labelPadding":3,"labelOffset":1,"labelColor":"#333"}},
"color":{"field":"v","type":"quantitative","title":null,"scale":{"domain":[0,1,2,3,4.35],"range":["#b0e0a0","#82c97a","#4fa552","#2a7f3e","#1d5a30"]},"legend":{"orient":"none","legendX":717,"legendY":0,"values":[0,1,2,3,4],"gradientLength":85,"gradientThickness":10,"labelFontSize":10}}}},
{"data":{"values":[{"a":12,"b":15,"c":0,"d":3},{"a":15,"b":18,"c":3,"d":5}]},"mark":{"type":"rect","fill":"transparent","stroke":"#000","strokeWidth":2,"strokeDash":[2,2]},"encoding":{"x":{"field":"a","type":"quantitative","axis":null,"scale":{"domain":[0,21],"nice":false}},"x2":{"field":"b"},"y":{"field":"c","type":"quantitative","axis":null,"scale":{"domain":[5,0],"nice":false}},"y2":{"field":"d"}}}],"resolve":{"scale":{"x":"independent","y":"independent","color":"independent"}}}
],"spacing":0,"bounds":"flush"}],"spacing":0,"bounds":"flush"},

{"vconcat":[{"width":1,"height":1181.5,"data":{"values":[]},"mark":"point","encoding":{}},{"hconcat":[{"width":478.7,"height":1,"data":{"values":[]},"mark":"point","encoding":{}},
{"width":338,"height":289.3,"layer":[{"data":{"values":[
{"p":"Toluene,_Polycyclic_aromatic_hydrocarbon","v":[0,0,0,0,0,0,0,0,0,0,0,4.4,0,0,0,0,0,0,0,0,0]},
{"p":"Protocatechuate_III,_Benzoate","v":[2.5,3.2,0,0.2,0.4,1.3,0,0,0,0,0,0,0,0,0,0,0,0,0.4,0.6,0.3]},
{"p":"Resorcylate_I,_Benzoate","v":[0,0,0,0,0,0,0,0,0,0,0,0,0,0,0,0,0,2,0,3,2.7]},
{"p":"Resorcylate_I,_Chlorocyclohexane_and_chlorobenzene,_Benzoate,_Toluene","v":[0,0,0,0,0,0,0,0,0,0,0,0,0,0,0,0,0,0,0,4.5,0.5]},
{"p":"Toluene","v":[0,0,0,0,0,0,0,0,0,0,0,0,0,0,0,0,0,0,0,4.5,0]},
{"p":"Polycyclic_aromatic_hydrocarbon","v":[0,0,4.5,0,0,0,0,0,0,0,0,0,0,0,0,0,0,0,0.4,1.1,0.2]},
{"p":"Gallate_III__anaerobic_,_Benzoate","v":[0,0,4.5,0,0,0,0,0,0,0,0,0,0,0,0,0,0,0,0,0,0]},
{"p":"Gentisate_II,_Benzoate,_Polycyclic_aromatic_hydrocarbon","v":[0,0,4.5,0,0,0,0,0,0,0,0,0,0,0,0,0,0,0,0,0,0]},
{"p":"Gallate_II,Protocatechuate_II,_Benzoate","v":[0,0,0,1,4.5,0,0,0,0,0,0,0,0,0,0,0,0,0,0,0,0]},
{"p":"Cathecol","v":[0,0,0,0.7,2.7,0,0.6,2,0,1.7,0,2.6,0,0,0,0,0,0,0,0,0]},
{"p":"Chlorocyclohexane_and_chlorobenzene,_Benzoate,_Toluene","v":[0,0,0,0,1.6,0,1.2,4,0,0,0,0,0,0,0,0,0,0,0,0,0]},
{"p":"Caprolactam","v":[0,0,0,2.8,0,0.3,0,0,0,0,0,1.6,0.6,0.1,3.4,0,0,0,0,0.3,0]},
{"p":"Toluene,_Benzoate","v":[0,0,0,4.5,0,0,0,0,0,0,0,0,0,0,0,0,0,0,0,0,0]},
{"p":"Chlorocyclohexane_and_chlorobenzene,_Benzoate,_Xylene,_Styrene","v":[0,0,0,4.5,0,0,0,0,0,0,0,0,0,0,0,0,0,0,0,0,0]},
{"p":"Gallate_II,Protocatechuate_I","v":[0,0,0,4.5,0,0,0,0,0,0,0,0,0,0,0,0,0,0,0,0,0]},
{"p":"Protocatechuate_I,_Benzoate","v":[0.2,0,0,0,0,0,0,0,0,0,0,0,1.4,2,2.2,1.6,1.1,2.6,0.3,0.3,0.3]},
{"p":"Benzoate","v":[0,0,0,0,0,0,0,0,0.3,0,0,0.4,1.1,3.8,1.8,0.8,0.5,0.6,0,0,0.1]},
{"p":"Benzoate,_Dioxin,_Xylene","v":[0,0,0,0,0,0,0,0,0,0,0,0,0,4.2,0.5,0,0,0,0,0,0]}]},
"transform":[{"flatten":["v"]},{"window":[{"op":"row_number","as":"i"}],"groupby":["p"]}],
"mark":{"type":"rect","stroke":"#a8a8a8","strokeWidth":1},
"encoding":{"x":{"field":"i","type":"ordinal","title":null,"scale":{"type":"band","padding":0},"axis":{"orient":"bottom","ticks":false,"domain":false,"labelAngle":90,"labelAlign":"left","labelBaseline":"middle","labelFontSize":10.5,"labelPadding":3,"labelExpr":"['BYL_AF5','BYL_C5','BYL_I5','BYL167_lit1','BYL161_lit3','BYL117_lit2','BYL167_D1','BYL161_D3','BYL117_D3','BYL167_S','BYL161_S','BYL117_S','BYL01_W','BYL30A_W','BYL80_W','BYL01_sed1','BYL30A_sed3','BYL80_sed1','BYL01_lit2','BYL30A_lit1','BYL80_lit2'][datum.value-1]"}},"y":{"field":"p","type":"nominal","sort":null,"title":null,"scale":{"type":"band","padding":0},"axis":{"orient":"right","ticks":false,"domain":false,"labelFontSize":10.7,"labelLimit":500,"labelPadding":3,"labelOffset":1,"labelColor":"#333"}},
"color":{"field":"v","type":"quantitative","title":null,"scale":{"domain":[0,1,2,3,4.5],"range":["#fdc484","#f49c45","#e36c1f","#bf4a1c","#8f3218"]},"legend":{"orient":"none","legendX":717,"legendY":0,"values":[0,1,2,3,4],"gradientLength":161,"gradientThickness":10,"labelFontSize":10}}}},
{"data":{"values":[{"a":3,"b":5,"c":9,"d":11},{"a":6,"b":8,"c":9,"d":11},{"a":11,"b":15,"c":11,"d":12},{"a":12,"b":18,"c":15,"d":18}]},"mark":{"type":"rect","fill":"transparent","stroke":"#000","strokeWidth":2,"strokeDash":[2,2]},"encoding":{"x":{"field":"a","type":"quantitative","axis":null,"scale":{"domain":[0,21],"nice":false}},"x2":{"field":"b"},"y":{"field":"c","type":"quantitative","axis":null,"scale":{"domain":[18,0],"nice":false}},"y2":{"field":"d"}}}],"resolve":{"scale":{"x":"independent","y":"independent","color":"independent"}}}
],"spacing":0,"bounds":"flush"}],"spacing":0,"bounds":"flush"},

{"vconcat":[{"width":1,"height":658,"data":{"values":[]},"mark":"point","encoding":{}},{"hconcat":[{"width":478.7,"height":1,"data":{"values":[]},"mark":"point","encoding":{}},{"width":338,"height":3,"data":{"name":"groups"},"mark":"rect","encoding":{"x":{"field":"g","type":"nominal","sort":null,"axis":null,"scale":{"paddingInner":0.1,"paddingOuter":0.05}},"color":{"field":"g","type":"nominal","legend":null,"sort":null,"scale":{"domain":["Perm_AL","eIWT_lit","eIWT_WD","eIWT_WS","CP_W","CP_sed","CP_lit"],"range":["#fb9a9a","#f5c211","#1f78a8","#97d4f0","#aecbe8","#4fa83d","#fdc010"]}}}}],"spacing":0,"bounds":"flush"}],"spacing":0,"bounds":"flush"},
{"vconcat":[{"width":1,"height":834,"data":{"values":[]},"mark":"point","encoding":{}},{"hconcat":[{"width":478.7,"height":1,"data":{"values":[]},"mark":"point","encoding":{}},{"width":338,"height":3,"data":{"name":"groups"},"mark":"rect","encoding":{"x":{"field":"g","type":"nominal","sort":null,"axis":null,"scale":{"paddingInner":0.1,"paddingOuter":0.05}},"color":{"field":"g","type":"nominal","legend":null,"sort":null,"scale":{"domain":["Perm_AL","eIWT_lit","eIWT_WD","eIWT_WS","CP_W","CP_sed","CP_lit"],"range":["#fb9a9a","#f5c211","#1f78a8","#97d4f0","#aecbe8","#4fa83d","#fdc010"]}}}}],"spacing":0,"bounds":"flush"}],"spacing":0,"bounds":"flush"},
{"vconcat":[{"width":1,"height":1032,"data":{"values":[]},"mark":"point","encoding":{}},{"hconcat":[{"width":478.7,"height":1,"data":{"values":[]},"mark":"point","encoding":{}},{"width":338,"height":3,"data":{"name":"groups"},"mark":"rect","encoding":{"x":{"field":"g","type":"nominal","sort":null,"axis":null,"scale":{"paddingInner":0.1,"paddingOuter":0.05}},"color":{"field":"g","type":"nominal","legend":null,"sort":null,"scale":{"domain":["Perm_AL","eIWT_lit","eIWT_WD","eIWT_WS","CP_W","CP_sed","CP_lit"],"range":["#fb9a9a","#f5c211","#1f78a8","#97d4f0","#aecbe8","#4fa83d","#fdc010"]}}}}],"spacing":0,"bounds":"flush"}],"spacing":0,"bounds":"flush"},
{"vconcat":[{"width":1,"height":1149,"data":{"values":[]},"mark":"point","encoding":{}},{"hconcat":[{"width":478.7,"height":1,"data":{"values":[]},"mark":"point","encoding":{}},{"width":338,"height":3,"data":{"name":"groups"},"mark":"rect","encoding":{"x":{"field":"g","type":"nominal","sort":null,"axis":null,"scale":{"paddingInner":0.1,"paddingOuter":0.05}},"color":{"field":"g","type":"nominal","legend":null,"sort":null,"scale":{"domain":["Perm_AL","eIWT_lit","eIWT_WD","eIWT_WS","CP_W","CP_sed","CP_lit"],"range":["#fb9a9a","#f5c211","#1f78a8","#97d4f0","#aecbe8","#4fa83d","#fdc010"]}}}}],"spacing":0,"bounds":"flush"}],"spacing":0,"bounds":"flush"},
{"vconcat":[{"width":1,"height":1546,"data":{"values":[]},"mark":"point","encoding":{}},{"hconcat":[{"width":478.7,"height":1,"data":{"values":[]},"mark":"point","encoding":{}},{"width":338,"height":3,"data":{"name":"groups"},"mark":"rect","encoding":{"x":{"field":"g","type":"nominal","sort":null,"axis":null,"scale":{"paddingInner":0.1,"paddingOuter":0.05}},"color":{"field":"g","type":"nominal","legend":null,"sort":null,"scale":{"domain":["Perm_AL","eIWT_lit","eIWT_WD","eIWT_WS","CP_W","CP_sed","CP_lit"],"range":["#fb9a9a","#f5c211","#1f78a8","#97d4f0","#aecbe8","#4fa83d","#fdc010"]}}}}],"spacing":0,"bounds":"flush"}],"spacing":0,"bounds":"flush"},

{"vconcat":[{"width":1,"height":540,"data":{"values":[]},"mark":"point","encoding":{}},{"hconcat":[{"width":478.7,"height":1,"data":{"values":[]},"mark":"point","encoding":{}},{"width":338,"height":930,"data":{"values":[{"c":2.97},{"c":12}]},"mark":{"type":"rule","stroke":"#000","strokeWidth":2,"strokeDash":[2,2]},"encoding":{"x":{"field":"c","type":"quantitative","axis":null,"scale":{"domain":[0,21],"nice":false}}}}],"spacing":0,"bounds":"flush"}],"spacing":0,"bounds":"flush"},

{"vconcat":[{"width":1,"height":617,"data":{"values":[]},"mark":"point","encoding":{}},{"hconcat":[{"width":916,"height":1,"data":{"values":[]},"mark":"point","encoding":{}},{"width":67,"height":29,"data":{"values":[{"a":0,"b":1,"c":0.48,"d":0.48},{"a":1,"b":1,"c":0,"d":1}]},"mark":{"type":"rule","stroke":"#000","strokeWidth":2},"encoding":{"x":{"field":"a","type":"quantitative","axis":null,"scale":{"domain":[0,1],"nice":false}},"x2":{"field":"b"},"y":{"field":"c","type":"quantitative","axis":null,"scale":{"domain":[1,0],"nice":false}},"y2":{"field":"d"}}}],"spacing":0,"bounds":"flush"}],"spacing":0,"bounds":"flush"},
{"vconcat":[{"width":1,"height":614,"data":{"values":[]},"mark":"point","encoding":{}},{"hconcat":[{"width":994,"height":1,"data":{"values":[]},"mark":"point","encoding":{}},{"width":21,"height":16,"data":{"values":[{}]},"mark":{"type":"text","text":"acs","fontStyle":"italic","fontSize":14,"fill":"#222"},"encoding":{}},{"width":10,"height":16,"data":{"values":[{}]},"mark":{"type":"text","text":"A","fontSize":14,"fill":"#222"},"encoding":{}}],"spacing":0,"bounds":"flush"}],"spacing":0,"bounds":"flush"},
{"vconcat":[{"width":1,"height":631,"data":{"values":[]},"mark":"point","encoding":{}},{"hconcat":[{"width":994,"height":1,"data":{"values":[]},"mark":"point","encoding":{}},{"width":21,"height":16,"data":{"values":[{}]},"mark":{"type":"text","text":"pta","fontStyle":"italic","fontSize":14,"fill":"#222"},"encoding":{}}],"spacing":0,"bounds":"flush"}],"spacing":0,"bounds":"flush"},

{"vconcat":[{"width":1,"height":578,"data":{"values":[]},"mark":"point","encoding":{}},{"hconcat":[{"width":436,"height":1,"data":{"values":[]},"mark":"point","encoding":{}},{"width":30,"height":60,"data":{"values":[{}]},"mark":{"type":"text","text":"Mcyc","angle":270,"fontSize":20,"fill":"#222"},"encoding":{}}],"spacing":0,"bounds":"flush"}],"spacing":0,"bounds":"flush"},
{"vconcat":[{"width":1,"height":718,"data":{"values":[]},"mark":"point","encoding":{}},{"hconcat":[{"width":436,"height":1,"data":{"values":[]},"mark":"point","encoding":{}},{"width":30,"height":60,"data":{"values":[{}]},"mark":{"type":"text","text":"Ncyc","angle":270,"fontSize":20,"fill":"#222"},"encoding":{}}],"spacing":0,"bounds":"flush"}],"spacing":0,"bounds":"flush"},
{"vconcat":[{"width":1,"height":893,"data":{"values":[]},"mark":"point","encoding":{}},{"hconcat":[{"width":436,"height":1,"data":{"values":[]},"mark":"point","encoding":{}},{"width":30,"height":60,"data":{"values":[{}]},"mark":{"type":"text","text":"Scyc","angle":270,"fontSize":20,"fill":"#222"},"encoding":{}}],"spacing":0,"bounds":"flush"}],"spacing":0,"bounds":"flush"},
{"vconcat":[{"width":1,"height":1049,"data":{"values":[]},"mark":"point","encoding":{}},{"hconcat":[{"width":436,"height":1,"data":{"values":[]},"mark":"point","encoding":{}},{"width":30,"height":60,"data":{"values":[{}]},"mark":{"type":"text","text":"Pcyc","angle":270,"fontSize":20,"fill":"#222"},"encoding":{}}],"spacing":0,"bounds":"flush"}],"spacing":0,"bounds":"flush"},
{"vconcat":[{"width":1,"height":1196,"data":{"values":[]},"mark":"point","encoding":{}},{"hconcat":[{"width":436,"height":1,"data":{"values":[]},"mark":"point","encoding":{}},{"width":30,"height":220,"data":{"values":[{}]},"mark":{"type":"text","text":"Arom. C degradation","angle":270,"fontSize":20,"fill":"#222"},"encoding":{}}],"spacing":0,"bounds":"flush"}],"spacing":0,"bounds":"flush"},

{"vconcat":[{"width":1,"height":513,"data":{"values":[]},"mark":"point","encoding":{}},{"hconcat":[{"width":184,"height":1,"data":{"values":[]},"mark":"point","encoding":{}},
{"width":230,"height":212,"view":{"stroke":"#888","strokeWidth":1.5},"layer":[
{"data":{"values":[{"z":0}]},"mark":{"type":"rule","stroke":"#bbb","strokeDash":[2,2],"strokeWidth":1},"encoding":{"x":{"field":"z","type":"quantitative","title":"dbRDA1","scale":{"domain":[-1.816,1.674],"nice":false},"axis":{"values":[-1.5,-1,-0.5,0,0.5,1,1.5],"format":".1f","labelOverlap":false,"labelFontSize":10.5,"titleFontSize":11,"domain":false,"tickColor":"#666","tickSize":4,"labelPadding":1,"titlePadding":6}}}},
{"data":{"values":[{"z":0}]},"mark":{"type":"rule","stroke":"#bbb","strokeDash":[2,2],"strokeWidth":1},"encoding":{"y":{"field":"z","type":"quantitative","title":"dbRDA2","scale":{"domain":[-1.617,1.617],"nice":false},"axis":{"values":[-1.5,-1,-0.5,0,0.5,1,1.5],"format":".1f","labelOverlap":false,"labelAngle":-90,"labelAlign":"center","labelBaseline":"bottom","labelFontSize":10.5,"titleFontSize":11,"domain":false,"tickColor":"#666","tickSize":4,"labelPadding":1,"titlePadding":6}}}},
{"data":{"values":[{"t":"RuMP cycle","x":-1.35,"y":1.05,"lx":-1.54,"ly":1.06},{"t":"Methanotrophy","x":-1.12,"y":0.66,"lx":-1.47,"ly":0.71},{"t":"Oxidation of formaldehyde","x":-1.1,"y":0.65,"lx":-0.79,"ly":0.7},{"t":"Methanogenesis and\nanoxigenic methane\noxidation","x":-1.07,"y":0.6,"lx":-1.43,"ly":0.51},{"t":"Serine cycle","x":-1.34,"y":0.3,"lx":-1.54,"ly":0.3}]},"transform":[{"calculate":"atan2(datum.x,datum.y)*180/PI","as":"a"}],"layer":[
{"mark":{"type":"rule","style":"fl"},"encoding":{"x":{"field":"x","type":"quantitative"},"y":{"field":"y","type":"quantitative"},"x2":{"datum":0},"y2":{"datum":0}}},
{"mark":{"type":"point","style":"fh"},"encoding":{"x":{"field":"x","type":"quantitative"},"y":{"field":"y","type":"quantitative"},"angle":{"field":"a","type":"quantitative","scale":null}}},
{"mark":{"type":"text","style":"ft"},"encoding":{"x":{"field":"lx","type":"quantitative"},"y":{"field":"ly","type":"quantitative"},"text":{"field":"t"}}}]},
{"data":{"name":"env"},"transform":[{"calculate":"atan2(datum.x,datum.y)*180/PI","as":"a"}],"layer":[
{"mark":{"type":"rule","style":"el"},"encoding":{"x":{"field":"x","type":"quantitative"},"y":{"field":"y","type":"quantitative"},"x2":{"datum":0},"y2":{"datum":0}}},
{"mark":{"type":"point","style":"eh"},"encoding":{"x":{"field":"x","type":"quantitative"},"y":{"field":"y","type":"quantitative"},"angle":{"field":"a","type":"quantitative","scale":null}}},
{"mark":{"type":"text","style":"et"},"encoding":{"x":{"field":"lx","type":"quantitative"},"y":{"field":"ly","type":"quantitative"},"text":{"field":"t"}}}]},
{"data":{"name":"sites"},"layer":[
{"mark":{"type":"point","filled":true,"opacity":1},"encoding":{"x":{"field":"x","type":"quantitative"},"y":{"field":"y","type":"quantitative"},"size":{"field":"k","type":"ordinal","legend":null,"scale":{"domain":["W","WS","WD"],"range":[35,70,70]}},"shape":{"field":"k","type":"nominal","legend":null,"scale":{"domain":["W","WS","WD"],"range":["circle","triangle-up","triangle-up"]}},"color":{"field":"k","type":"nominal","legend":null,"scale":{"domain":["W","WS","WD"],"range":["#5b93cf","#88ccee","#332288"]}}}},
{"mark":{"type":"text","style":"st"},"encoding":{"x":{"field":"lx","type":"quantitative"},"y":{"field":"ly","type":"quantitative"},"text":{"field":"name"},"fill":{"field":"k","type":"nominal","legend":null,"scale":{"domain":["W","WS","WD"],"range":["#86b0e0","#add9f2","#6a55b0"]}}}}]},
{"data":{"values":[{"x":-1.4,"y":1.41,"t":"Mcyc"}]},"mark":{"type":"text","fontSize":18,"fill":"#111"},"encoding":{"x":{"field":"x","type":"quantitative"},"y":{"field":"y","type":"quantitative"},"text":{"field":"t"}}}
]}
],"spacing":0,"bounds":"flush"}],"spacing":0,"bounds":"flush"},

{"vconcat":[{"width":1,"height":789,"data":{"values":[]},"mark":"point","encoding":{}},{"hconcat":[{"width":184,"height":1,"data":{"values":[]},"mark":"point","encoding":{}},
{"width":230,"height":212,"view":{"stroke":"#888","strokeWidth":1.5},"layer":[
{"data":{"values":[{"z":0}]},"mark":{"type":"rule","stroke":"#bbb","strokeDash":[2,2],"strokeWidth":1},"encoding":{"x":{"field":"z","type":"quantitative","title":"dbRDA1","scale":{"domain":[-1.816,1.674],"nice":false},"axis":{"values":[-1.5,-1,-0.5,0,0.5,1,1.5],"format":".1f","labelOverlap":false,"labelFontSize":10.5,"titleFontSize":11,"domain":false,"tickColor":"#666","tickSize":4,"labelPadding":1,"titlePadding":6}}}},
{"data":{"values":[{"z":0}]},"mark":{"type":"rule","stroke":"#bbb","strokeDash":[2,2],"strokeWidth":1},"encoding":{"y":{"field":"z","type":"quantitative","title":"dbRDA2","scale":{"domain":[-1.617,1.617],"nice":false},"axis":{"values":[-1.5,-1,-0.5,0,0.5,1,1.5],"format":".1f","labelOverlap":false,"labelAngle":-90,"labelAlign":"center","labelBaseline":"bottom","labelFontSize":10.5,"titleFontSize":11,"domain":false,"tickColor":"#666","tickSize":4,"labelPadding":1,"titlePadding":6}}}},
{"data":{"values":[{"t":"Organic degradation\nand synthesis","x":-1.35,"y":0.64,"lx":-1.51,"ly":0.73},{"t":"SOX  systems","x":-0.96,"y":0.66,"lx":-1.01,"ly":0.7},{"t":"Linkages between inorganic\nand organic sulphur transformation","x":-0.97,"y":0.65,"lx":-0.35,"ly":0.67},{"t":"Nitrogen  fixation","x":-1.26,"y":0.59,"lx":-1.33,"ly":0.61},{"t":"Carbon and nitrogen\nassimilation","x":-1.25,"y":0.29,"lx":-1.46,"ly":0.35},{"t":"Assimilatory\nsulphate reduction","x":-1.06,"y":0.23,"lx":-1.34,"ly":0.18},{"t":"Assimilatory\nnitrate/sulphite\nreduction","x":-1.12,"y":0,"lx":-1.33,"ly":-0.04}]},"transform":[{"calculate":"atan2(datum.x,datum.y)*180/PI","as":"a"}],"layer":[
{"mark":{"type":"rule","style":"fl"},"encoding":{"x":{"field":"x","type":"quantitative"},"y":{"field":"y","type":"quantitative"},"x2":{"datum":0},"y2":{"datum":0}}},
{"mark":{"type":"point","style":"fh"},"encoding":{"x":{"field":"x","type":"quantitative"},"y":{"field":"y","type":"quantitative"},"angle":{"field":"a","type":"quantitative","scale":null}}},
{"mark":{"type":"text","style":"ft"},"encoding":{"x":{"field":"lx","type":"quantitative"},"y":{"field":"ly","type":"quantitative"},"text":{"field":"t"}}}]},
{"data":{"name":"env"},"transform":[{"calculate":"atan2(datum.x,datum.y)*180/PI","as":"a"}],"layer":[
{"mark":{"type":"rule","style":"el"},"encoding":{"x":{"field":"x","type":"quantitative"},"y":{"field":"y","type":"quantitative"},"x2":{"datum":0},"y2":{"datum":0}}},
{"mark":{"type":"point","style":"eh"},"encoding":{"x":{"field":"x","type":"quantitative"},"y":{"field":"y","type":"quantitative"},"angle":{"field":"a","type":"quantitative","scale":null}}},
{"mark":{"type":"text","style":"et"},"encoding":{"x":{"field":"lx","type":"quantitative"},"y":{"field":"ly","type":"quantitative"},"text":{"field":"t"}}}]},
{"data":{"name":"sites"},"layer":[
{"mark":{"type":"point","filled":true,"opacity":1},"encoding":{"x":{"field":"x","type":"quantitative"},"y":{"field":"y","type":"quantitative"},"size":{"field":"k","type":"ordinal","legend":null,"scale":{"domain":["W","WS","WD"],"range":[35,70,70]}},"shape":{"field":"k","type":"nominal","legend":null,"scale":{"domain":["W","WS","WD"],"range":["circle","triangle-up","triangle-up"]}},"color":{"field":"k","type":"nominal","legend":null,"scale":{"domain":["W","WS","WD"],"range":["#5b93cf","#88ccee","#332288"]}}}},
{"mark":{"type":"text","style":"st"},"encoding":{"x":{"field":"lx","type":"quantitative"},"y":{"field":"ly","type":"quantitative"},"text":{"field":"name"},"fill":{"field":"k","type":"nominal","legend":null,"scale":{"domain":["W","WS","WD"],"range":["#86b0e0","#add9f2","#6a55b0"]}}}}]},
{"data":{"values":[{"x":-1.33,"y":1.35,"t":"NScyc"}]},"mark":{"type":"text","fontSize":18,"fill":"#111"},"encoding":{"x":{"field":"x","type":"quantitative"},"y":{"field":"y","type":"quantitative"},"text":{"field":"t"}}}
]}
],"spacing":0,"bounds":"flush"}],"spacing":0,"bounds":"flush"},

{"vconcat":[{"width":1,"height":1050,"data":{"values":[]},"mark":"point","encoding":{}},{"hconcat":[{"width":184,"height":1,"data":{"values":[]},"mark":"point","encoding":{}},
{"width":230,"height":212,"view":{"stroke":"#888","strokeWidth":1.5},"layer":[
{"data":{"values":[{"z":0}]},"mark":{"type":"rule","stroke":"#bbb","strokeDash":[2,2],"strokeWidth":1},"encoding":{"x":{"field":"z","type":"quantitative","title":"dbRDA1","scale":{"domain":[-1.816,1.674],"nice":false},"axis":{"values":[-1.5,-1,-0.5,0,0.5,1,1.5],"format":".1f","labelOverlap":false,"labelFontSize":10.5,"titleFontSize":11,"domain":false,"tickColor":"#666","tickSize":4,"labelPadding":1,"titlePadding":6}}}},
{"data":{"values":[{"z":0}]},"mark":{"type":"rule","stroke":"#bbb","strokeDash":[2,2],"strokeWidth":1},"encoding":{"y":{"field":"z","type":"quantitative","title":"dbRDA2","scale":{"domain":[-1.617,1.617],"nice":false},"axis":{"values":[-1.5,-1,-0.5,0,0.5,1,1.5],"format":".1f","labelOverlap":false,"labelAngle":-90,"labelAlign":"center","labelBaseline":"bottom","labelFontSize":10.5,"titleFontSize":11,"domain":false,"tickColor":"#666","tickSize":4,"labelPadding":1,"titlePadding":6}}}},
{"data":{"values":[{"t":"sn-glycerol 3P transport","x":-1.35,"y":0.3,"lx":-1.35,"ly":0.34},{"t":"Phosphonate  transport","x":-1.05,"y":0.17,"lx":-1.38,"ly":0.2},{"t":"Phosphonate and\nphosphinate metabolism","x":-1.07,"y":0.01,"lx":-1.43,"ly":0.07}]},"transform":[{"calculate":"atan2(datum.x,datum.y)*180/PI","as":"a"}],"layer":[
{"mark":{"type":"rule","style":"fl"},"encoding":{"x":{"field":"x","type":"quantitative"},"y":{"field":"y","type":"quantitative"},"x2":{"datum":0},"y2":{"datum":0}}},
{"mark":{"type":"point","style":"fh"},"encoding":{"x":{"field":"x","type":"quantitative"},"y":{"field":"y","type":"quantitative"},"angle":{"field":"a","type":"quantitative","scale":null}}},
{"mark":{"type":"text","style":"ft"},"encoding":{"x":{"field":"lx","type":"quantitative"},"y":{"field":"ly","type":"quantitative"},"text":{"field":"t"}}}]},
{"data":{"name":"env"},"transform":[{"calculate":"atan2(datum.x,datum.y)*180/PI","as":"a"}],"layer":[
{"mark":{"type":"rule","style":"el"},"encoding":{"x":{"field":"x","type":"quantitative"},"y":{"field":"y","type":"quantitative"},"x2":{"datum":0},"y2":{"datum":0}}},
{"mark":{"type":"point","style":"eh"},"encoding":{"x":{"field":"x","type":"quantitative"},"y":{"field":"y","type":"quantitative"},"angle":{"field":"a","type":"quantitative","scale":null}}},
{"mark":{"type":"text","style":"et"},"encoding":{"x":{"field":"lx","type":"quantitative"},"y":{"field":"ly","type":"quantitative"},"text":{"field":"t"}}}]},
{"data":{"name":"sites"},"layer":[
{"mark":{"type":"point","filled":true,"opacity":1},"encoding":{"x":{"field":"x","type":"quantitative"},"y":{"field":"y","type":"quantitative"},"size":{"field":"k","type":"ordinal","legend":null,"scale":{"domain":["W","WS","WD"],"range":[35,70,70]}},"shape":{"field":"k","type":"nominal","legend":null,"scale":{"domain":["W","WS","WD"],"range":["circle","triangle-up","triangle-up"]}},"color":{"field":"k","type":"nominal","legend":null,"scale":{"domain":["W","WS","WD"],"range":["#5b93cf","#88ccee","#332288"]}}}},
{"mark":{"type":"text","style":"st"},"encoding":{"x":{"field":"lx","type":"quantitative"},"y":{"field":"ly","type":"quantitative"},"text":{"field":"name"},"fill":{"field":"k","type":"nominal","legend":null,"scale":{"domain":["W","WS","WD"],"range":["#86b0e0","#add9f2","#6a55b0"]}}}}]},
{"data":{"values":[{"x":-1.43,"y":1.43,"t":"Pcyc"}]},"mark":{"type":"text","fontSize":18,"fill":"#111"},"encoding":{"x":{"field":"x","type":"quantitative"},"y":{"field":"y","type":"quantitative"},"text":{"field":"t"}}}
]}
],"spacing":0,"bounds":"flush"}],"spacing":0,"bounds":"flush"},

{"vconcat":[{"width":1,"height":1314,"data":{"values":[]},"mark":"point","encoding":{}},{"hconcat":[{"width":184,"height":1,"data":{"values":[]},"mark":"point","encoding":{}},
{"width":231,"height":212,"view":{"stroke":"#888","strokeWidth":1.5},"layer":[
{"data":{"values":[{"z":0}]},"mark":{"type":"rule","stroke":"#bbb","strokeDash":[2,2],"strokeWidth":1},"encoding":{"x":{"field":"z","type":"quantitative","title":"dbRDA1","scale":{"domain":[-1.816,1.674],"nice":false},"axis":{"values":[-1.5,-1,-0.5,0,0.5,1,1.5],"format":".1f","labelOverlap":false,"labelFontSize":10.5,"titleFontSize":11,"domain":false,"tickColor":"#666","tickSize":4,"labelPadding":1,"titlePadding":6}}}},
{"data":{"values":[{"z":0}]},"mark":{"type":"rule","stroke":"#bbb","strokeDash":[2,2],"strokeWidth":1},"encoding":{"y":{"field":"z","type":"quantitative","title":"dbRDA2","scale":{"domain":[-1.617,1.617],"nice":false},"axis":{"values":[-1.5,-1,-0.5,0,0.5,1,1.5],"format":".1f","labelOverlap":false,"labelAngle":-90,"labelAlign":"center","labelBaseline":"bottom","labelFontSize":10.5,"titleFontSize":11,"domain":false,"tickColor":"#666","tickSize":4,"labelPadding":1,"titlePadding":6}}}},
{"data":{"values":[{"t":"Benzoate","x":-1.35,"y":0.6,"lx":-1.46,"ly":0.63},{"t":"Benzoate/Dioxin/Xylene","x":-0.82,"y":0.58,"lx":-0.85,"ly":0.63},{"t":"Caprolactam","x":-1.03,"y":0.22,"lx":-1.24,"ly":0.25},{"t":"Cathecol","x":0.93,"y":0.58,"lx":0.96,"ly":0.63},{"t":"Chlorocyclohexane and\nchlorobenzene/\nBenzoate/Toluene","x":1,"y":0.34,"lx":1.29,"ly":0.36}]},"transform":[{"calculate":"atan2(datum.x,datum.y)*180/PI","as":"a"}],"layer":[
{"mark":{"type":"rule","style":"fl"},"encoding":{"x":{"field":"x","type":"quantitative"},"y":{"field":"y","type":"quantitative"},"x2":{"datum":0},"y2":{"datum":0}}},
{"mark":{"type":"point","style":"fh"},"encoding":{"x":{"field":"x","type":"quantitative"},"y":{"field":"y","type":"quantitative"},"angle":{"field":"a","type":"quantitative","scale":null}}},
{"mark":{"type":"text","style":"ft"},"encoding":{"x":{"field":"lx","type":"quantitative"},"y":{"field":"ly","type":"quantitative"},"text":{"field":"t"}}}]},
{"data":{"name":"env"},"transform":[{"calculate":"atan2(datum.x,datum.y)*180/PI","as":"a"}],"layer":[
{"mark":{"type":"rule","style":"el"},"encoding":{"x":{"field":"x","type":"quantitative"},"y":{"field":"y","type":"quantitative"},"x2":{"datum":0},"y2":{"datum":0}}},
{"mark":{"type":"point","style":"eh"},"encoding":{"x":{"field":"x","type":"quantitative"},"y":{"field":"y","type":"quantitative"},"angle":{"field":"a","type":"quantitative","scale":null}}},
{"mark":{"type":"text","style":"et"},"encoding":{"x":{"field":"lx","type":"quantitative"},"y":{"field":"ly","type":"quantitative"},"text":{"field":"t"}}}]},
{"data":{"name":"sites"},"layer":[
{"mark":{"type":"point","filled":true,"opacity":1},"encoding":{"x":{"field":"x","type":"quantitative"},"y":{"field":"y","type":"quantitative"},"size":{"field":"k","type":"ordinal","legend":null,"scale":{"domain":["W","WS","WD"],"range":[35,70,70]}},"shape":{"field":"k","type":"nominal","legend":null,"scale":{"domain":["W","WS","WD"],"range":["circle","triangle-up","triangle-up"]}},"color":{"field":"k","type":"nominal","legend":null,"scale":{"domain":["W","WS","WD"],"range":["#5b93cf","#88ccee","#332288"]}}}},
{"mark":{"type":"text","style":"st"},"encoding":{"x":{"field":"lx","type":"quantitative"},"y":{"field":"ly","type":"quantitative"},"text":{"field":"name"},"fill":{"field":"k","type":"nominal","legend":null,"scale":{"domain":["W","WS","WD"],"range":["#86b0e0","#add9f2","#6a55b0"]}}}}]},
{"data":{"values":[{"x":-1.2,"y":1.3,"t":"Arom"}]},"mark":{"type":"text","fontSize":18,"fill":"#111"},"encoding":{"x":{"field":"x","type":"quantitative"},"y":{"field":"y","type":"quantitative"},"text":{"field":"t"}}}
]}
],"spacing":0,"bounds":"flush"}],"spacing":0,"bounds":"flush"},

{"vconcat":[{"width":1,"height":639,"data":{"values":[]},"mark":"point","encoding":{}},{"hconcat":[{"width":1413,"height":1,"data":{"values":[]},"mark":"point","encoding":{}},
{"width":555,"height":485,"layer":[
{"data":{"values":[{"a":17,"m":16,"n":1},{"a":2,"m":10,"n":1},{"a":3,"m":10,"n":1},{"a":1,"m":6,"n":1},{"a":26,"m":6,"n":1},{"a":4,"m":5,"n":1},{"a":1,"m":4,"n":1},{"a":2,"m":4,"n":1},{"a":7,"m":4,"n":1},{"a":1,"m":3,"n":1},{"a":5,"m":3,"n":1},{"a":0,"m":2,"n":8},{"a":1,"m":2,"n":7},{"a":2,"m":2,"n":4},{"a":19,"m":2,"n":1},{"a":0,"m":1,"n":14},{"a":1,"m":1,"n":3},{"a":1,"m":0,"n":42},{"a":2,"m":0,"n":6},{"a":3,"m":0,"n":4},{"a":4,"m":0,"n":1},{"a":9,"m":0,"n":1}]},
"mark":{"type":"circle","opacity":1},
"encoding":{"x":{"field":"a","type":"quantitative","title":"ARG","scale":{"domain":[-1.33,27.35],"nice":false},"axis":{"values":[0,5,10,15,20,25],"labelExpr":"datum.value%10==0?datum.label:''","labelOverlap":false,"grid":true,"gridColor":"#ececec","gridWidth":1.5,"ticks":false,"domain":false,"labelFontSize":22,"labelColor":"#111","titleFontSize":26,"titleColor":"#111","labelPadding":7,"titlePadding":1}},
"y":{"field":"m","type":"quantitative","title":"MRG","scale":{"domain":[-0.76,16.85],"nice":false},"axis":{"values":[0,2.5,5,7.5,10,12.5,15],"labelExpr":"datum.value%5==0?format(datum.value,'d'):''","labelOverlap":false,"grid":true,"gridColor":"#ececec","gridWidth":1.5,"ticks":false,"domain":false,"labelFontSize":22,"labelColor":"#111","titleFontSize":26,"titleColor":"#111","labelPadding":6,"titlePadding":1}},
"color":{"field":"n","type":"quantitative","scale":{"scheme":"viridis","domain":[1,43]},"legend":{"title":"n","orient":"none","legendX":1984,"legendY":761,"values":[10,20,30,40],"gradientLength":80,"gradientThickness":16,"titleFontSize":24,"labelFontSize":21,"titleColor":"#111","labelColor":"#111"}},
"size":{"field":"n","type":"quantitative","scale":{"domain":[0,42],"range":[0,125]},"legend":{"title":"n","orient":"none","legendX":1984,"legendY":893,"values":[10,20,30,40],"titleFontSize":24,"labelFontSize":21,"titleColor":"#111","labelColor":"#111","symbolFillColor":"#000","symbolStrokeColor":"#000","rowPadding":1}}}},
{"data":{"values":[{"t":"Bradyrhizobium","x":17.5,"y":16.29},{"t":"Pseudolabrys","x":1.45,"y":10.28},{"t":"Janthinobacterium","x":3.45,"y":9.66},{"t":"Falsiroseomonas","x":1.5,"y":6.26},{"t":"Rhodoferax_C","x":23.95,"y":5.96},{"t":"Rubrivivax","x":3.72,"y":4.66},{"t":"Piscinibacter","x":0.47,"y":4.26},{"t":"Rhodobacter_F","x":7.46,"y":4.26},{"t":"Mycobacterium","x":2.45,"y":3.65},{"t":"Methylobacter","x":0.6,"y":2.66},{"t":"UBA4719","x":4.45,"y":2.63},{"t":"Rhodoferax","x":19.5,"y":2.26},{"t":"CAIKVZ01","x":9.46,"y":0.25}]},"mark":{"type":"text","fontSize":10.5,"fill":"#222"},"encoding":{"x":{"field":"x","type":"quantitative"},"y":{"field":"y","type":"quantitative"},"text":{"field":"t"}}}
]}
],"spacing":0,"bounds":"flush"}],"spacing":0,"bounds":"flush"},

{"vconcat":[{"width":1,"height":638,"data":{"values":[]},"mark":"point","encoding":{}},{"hconcat":[{"width":1840,"height":1,"data":{"values":[]},"mark":"point","encoding":{}},{"width":135,"height":94,"view":{"fill":"white"},"data":{"values":[]},"mark":"point","encoding":{}}],"spacing":0,"bounds":"flush"}],"spacing":0,"bounds":"flush"},

{"vconcat":[{"width":1,"height":540,"data":{"values":[]},"mark":"point","encoding":{}},{"hconcat":[{"width":1913,"height":1,"data":{"values":[]},"mark":"point","encoding":{}},
{"width":159,"height":123,"view":{"fill":"white"},"layer":[
{"data":{"values":[{"a":0.221,"b":0.257,"c":15,"z":0},{"a":0.257,"b":0.291,"c":90,"z":0},{"a":0.291,"b":0.326,"c":350,"z":0},{"a":0.326,"b":0.362,"c":720,"z":0},{"a":0.362,"b":0.398,"c":1470,"z":0},{"a":0.398,"b":0.432,"c":1865,"z":0},{"a":0.432,"b":0.465,"c":2090,"z":0},{"a":0.465,"b":0.499,"c":1820,"z":0},{"a":0.499,"b":0.535,"c":820,"z":0},{"a":0.535,"b":0.568,"c":565,"z":0},{"a":0.568,"b":0.604,"c":225,"z":0},{"a":0.604,"b":0.638,"c":105,"z":0},{"a":0.638,"b":0.674,"c":40,"z":0},{"a":0.674,"b":0.705,"c":15,"z":0}]},"mark":{"type":"rect","fill":"#4a4a4a"},
"encoding":{"x":{"field":"a","type":"quantitative","title":["Prob. to observe ARG","on MRG encoding plasmid","10,000 permutations"],"scale":{"domain":[0,1],"nice":false},"axis":{"values":[0,0.125,0.25,0.375,0.5,0.625,0.75,0.875,1],"labelExpr":"datum.value*4%1==0?format(datum.value,'.2f'):''","labelOverlap":false,"labelFlush":false,"grid":true,"gridColor":"#efefef","ticks":false,"domainColor":"#777","labelFontSize":10.5,"titleFontSize":12,"titleLineHeight":14,"titlePadding":2,"labelPadding":3}},"x2":{"field":"b"},
"y":{"field":"z","type":"quantitative","title":"Count","scale":{"domain":[-90,2185],"nice":false},"axis":{"values":[0,250,500,750,1000,1250,1500,1750,2000],"labelExpr":"datum.value%500==0?format(datum.value,'d'):''","labelOverlap":false,"grid":true,"gridColor":"#efefef","ticks":false,"domainColor":"#777","labelFontSize":10.5,"titleFontSize":12,"titlePadding":3,"labelPadding":3}},"y2":{"field":"c"}}},
{"data":{"values":[{"p":0.568}]},"mark":{"type":"rule","stroke":"#2222ee","strokeWidth":1,"strokeDash":[4,3]},"encoding":{"x":{"field":"p","type":"quantitative"}}}
]}
],"spacing":0,"bounds":"flush"}],"spacing":0,"bounds":"flush"},

{"vconcat":[{"width":1,"height":562,"data":{"values":[]},"mark":"point","encoding":{}},{"hconcat":[{"width":1413,"height":1,"data":{"values":[]},"mark":"point","encoding":{}},{"width":320,"height":40,"data":{"values":[{}]},"mark":{"type":"text","text":"ARG vs. MRG counts","fontSize":33.5,"fill":"#000"},"encoding":{}}],"spacing":0,"bounds":"flush"}],"spacing":0,"bounds":"flush"},
{"vconcat":[{"width":1,"height":596,"data":{"values":[]},"mark":"point","encoding":{}},{"hconcat":[{"width":1422,"height":1,"data":{"values":[]},"mark":"point","encoding":{}},{"width":355,"height":40,"data":{"values":[{}]},"mark":{"type":"text","text":"on plasmids, 282 genes","fontSize":33.5,"fill":"#000"},"encoding":{}}],"spacing":0,"bounds":"flush"}],"spacing":0,"bounds":"flush"},

{"vconcat":[{"width":1,"height":1225,"data":{"values":[]},"mark":"point","encoding":{}},{"hconcat":[{"width":1479,"height":1,"data":{"values":[]},"mark":"point","encoding":{}},
{"width":430,"height":308,"data":{"values":[{"t":"ARG= antibiotic resistance gene"},{"t":"MRG= metal resistance gene"},{"t":"CP= coalescent pond"},{"t":"sed = sediment"},{"t":"W= water"},{"t":"WS = surface water"},{"t":"WD= deep water"},{"t":"eIWT= erosive ice-wedge trough"},{"t":"Perm = permafrost"},{"t":"AL = active layer"},{"t":"bAL = below active layer"}]},"mark":{"type":"text","font":"Open Sans","fontSize":21,"fill":"#222"},"encoding":{"y":{"field":"t","type":"nominal","sort":null,"axis":null,"scale":{"type":"point","padding":0.5}},"text":{"field":"t"}}}
],"spacing":0,"bounds":"flush"}],"spacing":0,"bounds":"flush"}
]}
